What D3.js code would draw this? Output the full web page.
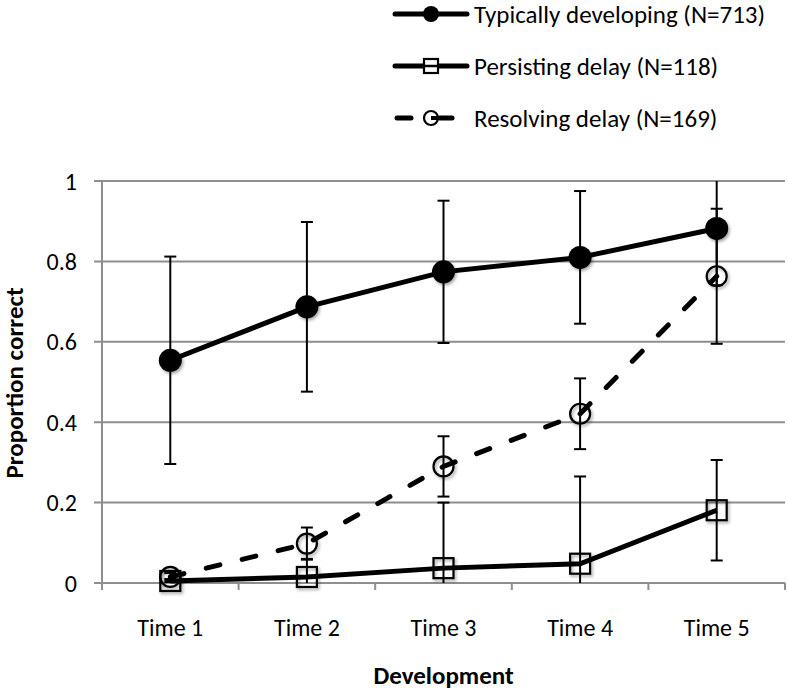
<!DOCTYPE html>
<html>
<head>
<meta charset="utf-8">
<script src="https://cdn.jsdelivr.net/npm/d3@7/dist/d3.min.js"></script>
<style>
  html, body { margin: 0; padding: 0; background: #fff; }
  svg { display: block; }
  text { font-family: Carlito, Calibri, Lato, "Open Sans", sans-serif; fill: #000; }
</style>
</head>
<body>
<svg id="chart" width="788" height="691"></svg>
<script>
// ---- data ----
const categories = ["Time 1", "Time 2", "Time 3", "Time 4", "Time 5"];
const yTicks = [0, 0.2, 0.4, 0.6, 0.8, 1];
const yTickLabels = ["0", "0.2", "0.4", "0.6", "0.8", "1"];

const seriesNames = ["Typically developing (N=713)", "Persisting delay (N=118)", "Resolving delay (N=169)"];
const typicalMean = [0.554, 0.687, 0.774, 0.810, 0.882];
const typicalErr  = [0.258, 0.211, 0.177, 0.165, 0.141];
const persistMean = [0.005, 0.015, 0.037, 0.048, 0.181];
const persistErr  = [0.005, 0.045, 0.163, 0.217, 0.125];
const resolveMean = [0.015, 0.098, 0.290, 0.421, 0.763];
const resolveErr  = [0.010, 0.040, 0.075, 0.088, 0.168];

const xTitle = "Development";
const yTitle = "Proportion correct";

// ---- layout ----
const svg = d3.select("#chart");
const pLeft = 102, pRight = 785, pTop = 181, pBottom = 583;

const x = d3.scaleBand().domain(categories).range([pLeft, pRight]).padding(0);
const y = d3.scaleLinear().domain([0, 1]).range([pBottom, pTop]);
const cx = c => x(c) + x.bandwidth() / 2;

const defs = svg.append("defs");
defs.append("clipPath").attr("id", "plotclip")
  .append("rect").attr("x", pLeft - 20).attr("y", pTop).attr("width", pRight - pLeft + 40).attr("height", pBottom - pTop);
const sh = defs.append("filter").attr("id", "shadow")
  .attr("x", "-50%").attr("y", "-50%").attr("width", "200%").attr("height", "200%");
sh.append("feDropShadow").attr("dx", 1.5).attr("dy", 2).attr("stdDeviation", 1.6)
  .attr("flood-color", "#000").attr("flood-opacity", 0.35);

const gridColor = "#8e8e8e";

// gridlines
svg.append("g").selectAll("line").data(yTicks).join("line")
  .attr("x1", pLeft - 8).attr("x2", pRight)
  .attr("y1", d => y(d)).attr("y2", d => y(d))
  .attr("stroke", gridColor).attr("stroke-width", 2);

// y axis line
svg.append("line").attr("x1", pLeft).attr("x2", pLeft).attr("y1", pTop).attr("y2", pBottom + 1)
  .attr("stroke", gridColor).attr("stroke-width", 2);

// x ticks (category boundaries)
const xBounds = categories.map(c => x(c)).concat([pRight]);
svg.append("g").selectAll("line").data(xBounds).join("line")
  .attr("x1", d => d).attr("x2", d => d)
  .attr("y1", pBottom).attr("y2", pBottom + 7)
  .attr("stroke", gridColor).attr("stroke-width", 2);

// y tick labels
svg.append("g").selectAll("text").data(yTicks).join("text")
  .attr("x", 77).attr("y", d => y(d))
  .attr("dy", "0.36em")
  .attr("text-anchor", "end")
  .attr("font-size", 24)
  .text((d, i) => yTickLabels[i]);

// x tick labels
svg.append("g").selectAll("text").data(categories).join("text")
  .attr("x", d => cx(d)).attr("y", 636)
  .attr("text-anchor", "middle")
  .attr("font-size", 24)
  .text(d => d);

// axis titles
svg.append("text").attr("x", (pLeft + pRight) / 2).attr("y", 684)
  .attr("text-anchor", "middle").attr("font-size", 25).attr("font-weight", "bold")
  .text(xTitle);
svg.append("text")
  .attr("transform", "translate(23,383) rotate(-90)")
  .attr("text-anchor", "middle").attr("font-size", 25).attr("font-weight", "bold")
  .text(yTitle);

// ---- series ----
const series = [
  { name: seriesNames[0], mean: typicalMean, err: typicalErr, dash: null, marker: "fcircle" },
  { name: seriesNames[1], mean: persistMean, err: persistErr, dash: null, marker: "square" },
  { name: seriesNames[2], mean: resolveMean, err: resolveErr, dash: "14,23", marker: "ocircle" }
];

const plot = svg.append("g").attr("clip-path", "url(#plotclip)");

// error bars
series.forEach(s => {
  const g = plot.append("g");
  categories.forEach((c, i) => {
    const hi = s.mean[i] + s.err[i], lo = s.mean[i] - s.err[i];
    g.append("line").attr("x1", cx(c)).attr("x2", cx(c))
      .attr("y1", y(hi)).attr("y2", y(lo))
      .attr("stroke", "#000").attr("stroke-width", 2);
    [hi, lo].forEach(v => {
      if (v <= 1 && v >= 0) {
        g.append("line").attr("x1", cx(c) - 6).attr("x2", cx(c) + 6)
          .attr("y1", y(v)).attr("y2", y(v))
          .attr("stroke", "#000").attr("stroke-width", 2);
      }
    });
  });
});

// lines
const lineGen = d3.line().x((d, i) => cx(categories[i])).y(d => y(d));
series.forEach(s => {
  svg.append("path").datum(s.mean)
    .attr("d", lineGen)
    .attr("fill", "none").attr("stroke", "#000").attr("stroke-width", 5)
    .attr("stroke-linecap", s.dash ? "round" : "butt")
    .attr("stroke-dasharray", s.dash);
});

function drawMarker(g, type, px, py, scale) {
  if (type === "fcircle") {
    g.append("circle").attr("cx", px).attr("cy", py).attr("r", 11.5 * scale)
      .attr("fill", "#000").attr("filter", "url(#shadow)");
  } else if (type === "ocircle") {
    g.append("circle").attr("cx", px).attr("cy", py).attr("r", 10 * scale)
      .attr("fill", "none").attr("stroke", "#000").attr("stroke-width", 2.2)
      .attr("filter", "url(#shadow)");
  } else {
    const s = 20 * scale;
    g.append("rect").attr("x", px - s / 2).attr("y", py - s / 2)
      .attr("width", s).attr("height", s)
      .attr("fill", "none").attr("stroke", "#000").attr("stroke-width", 2.2)
      .attr("filter", "url(#shadow)");
  }
}

// markers
series.forEach(s => {
  const g = svg.append("g");
  s.mean.forEach((v, i) => drawMarker(g, s.marker, cx(categories[i]), y(v), 1));
});

// ---- legend ----
const legY = [14, 66, 118];
series.forEach((s, i) => {
  const g = svg.append("g");
  if (s.dash) {
    g.append("line").attr("x1", 397).attr("x2", 411).attr("y1", legY[i]).attr("y2", legY[i])
      .attr("stroke", "#000").attr("stroke-width", 5).attr("stroke-linecap", "round");
    g.append("line").attr("x1", 440).attr("x2", 452).attr("y1", legY[i]).attr("y2", legY[i])
      .attr("stroke", "#000").attr("stroke-width", 5).attr("stroke-linecap", "round");
    g.append("circle").attr("cx", 431).attr("cy", legY[i]).attr("r", 7)
      .attr("fill", "#fff").attr("stroke", "#000").attr("stroke-width", 2.2);
    g.append("line").attr("x1", 431).attr("x2", 440).attr("y1", legY[i]).attr("y2", legY[i])
      .attr("stroke", "#000").attr("stroke-width", 4);
  } else {
    g.append("line").attr("x1", 395).attr("x2", 467).attr("y1", legY[i]).attr("y2", legY[i])
      .attr("stroke", "#000").attr("stroke-width", 5).attr("stroke-linecap", "round");
    if (s.marker === "fcircle") {
      g.append("circle").attr("cx", 431).attr("cy", legY[i]).attr("r", 8).attr("fill", "#000");
    } else {
      g.append("rect").attr("x", 424).attr("y", legY[i] - 7).attr("width", 14).attr("height", 14)
        .attr("fill", "#fff").attr("stroke", "#000").attr("stroke-width", 2.2);
      g.append("line").attr("x1", 424).attr("x2", 438).attr("y1", legY[i]).attr("y2", legY[i])
        .attr("stroke", "#000").attr("stroke-width", 2.5);
    }
  }
  g.append("text").attr("x", 474).attr("y", legY[i]).attr("dy", "0.36em")
    .attr("font-size", 25).text(s.name);
});
</script>
</body>
</html>
